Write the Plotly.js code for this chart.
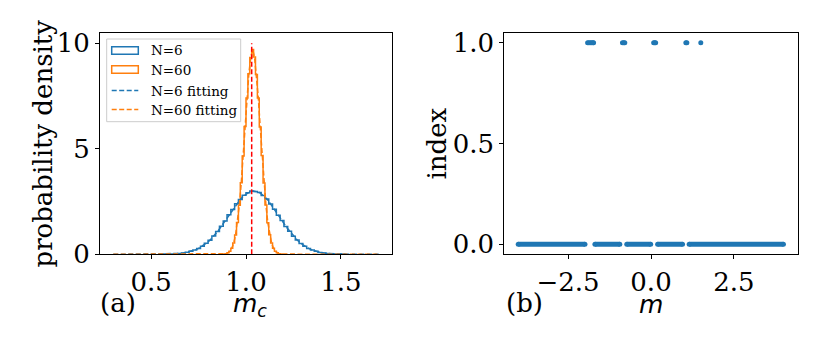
<!DOCTYPE html>
<html>
<head>
<meta charset="utf-8">
<script src="https://cdn.plot.ly/plotly-3.0.1.min.js"></script>
<style>
  body { margin: 0; background: #fff; }
  #graph { width: 830px; height: 346px; }
</style>
</head>
<body>
<div id="graph"></div>
<script>
// (a) histogram of m_c, N=6 (bin edges + densities)
var n6Edges = [0.56,0.58,0.60,0.62,0.64,0.66,0.68,0.70,0.72,0.74,0.76,0.78,0.80,0.82,0.84,0.86,
  0.88,0.90,0.92,0.94,0.96,0.98,1.00,1.02,1.04,1.06,1.08,1.10,1.12,1.14,1.16,1.18,1.20,1.22,
  1.24,1.26,1.28,1.30,1.32,1.34,1.36,1.38,1.40,1.42,1.44,1.46,1.48,1.50,1.52]
var n6Density = [0.01,0.01,0.02,0.03,0.04,0.06,0.10,0.14,0.20,0.28,0.38,0.52,0.67,0.87,1.08,1.33,
  1.58,1.87,2.12,2.39,2.60,2.80,2.92,3.00,2.98,2.93,2.79,2.62,2.38,2.14,1.85,1.60,1.32,1.09,
  0.86,0.68,0.51,0.38,0.28,0.20,0.14,0.09,0.06,0.04,0.03,0.02,0.01,0.01]

// N=60
var n60Edges = [0.88,0.89,0.90,0.91,0.92,0.93,0.94,0.95,0.96,0.97,0.98,0.99,1.00,1.01,1.02,1.03,
  1.04,1.05,1.06,1.07,1.08,1.09,1.10,1.11,1.12,1.13,1.14,1.15,1.16,1.17,1.18,1.19]
var n60Density = [0.01,0.03,0.07,0.15,0.29,0.53,0.92,1.51,2.33,3.39,4.66,6.05,7.40,8.55,9.33,9.70,
  9.35,8.52,7.41,6.03,4.68,3.38,2.34,1.50,0.93,0.53,0.29,0.15,0.07,0.03,0.01]

var fitRange = [0.3, 1.7]     // span of the fitted curves
var meanLine = 1.03           // red dashed line
var meanLineTop = 10

// (b) index vs m
var idx1M = [-1.91,-1.87,-1.83,-1.79,-1.75,-1.73, -0.86,-0.82,-0.79, 0.08,0.11,0.14, 1.05,1.08, 1.50]
var idx1Val = 1
// runs of index=0 points (start, end)
var idx0Runs = [[-4.0,-1.99],[-1.69,-0.94],[-0.73,-0.01],[0.20,0.95],[1.15,3.99]]
var idx0Val = 0

var blue = '#1f77b4'
var orange = '#ff7f0e'
var serif = 'DejaVu Serif'

//////////////////////////////////////////////////////////
// helpers
function stepTrace(edges, vals, color){
  // matplotlib histtype='step' outline
  var x = [edges[0]], y = [0]
  for (var i = 0; i < vals.length; i++){ x.push(edges[i]); y.push(vals[i]) }
  x.push(edges[edges.length-1]); y.push(0)
  return {x:x, y:y, mode:'lines', line:{shape:'hv', color:color, width:1.5},
    xaxis:'x', yaxis:'y', showlegend:false, hoverinfo:'skip'}
}
function fitTrace(edges, vals, color){
  var x = [fitRange[0]], y = [0]
  for (var i = 0; i < vals.length; i++){ x.push((edges[i]+edges[i+1])/2); y.push(vals[i]) }
  x.push(fitRange[1]); y.push(0)
  return {x:x, y:y, mode:'lines', line:{color:color, width:1.5, dash:'5px,2.5px'},
    xaxis:'x', yaxis:'y', showlegend:false, hoverinfo:'skip'}
}
// pixel -> paper
function px(v){ return v/830 }
function py(v){ return 1 - v/346 }

var traces = [
  stepTrace(n6Edges, n6Density, blue),
  stepTrace(n60Edges, n60Density, orange),
  fitTrace(n6Edges, n6Density, blue),
  fitTrace(n60Edges, n60Density, orange),
  {x:[meanLine, meanLine], y:[0, meanLineTop], mode:'lines',
    line:{color:'red', width:1.5, dash:'5px,2.5px'}, xaxis:'x', yaxis:'y', showlegend:false}
]

var runX = [], runY = []
idx0Runs.forEach(function(r){ runX.push(r[0], r[1], null); runY.push(idx0Val, idx0Val, null) })
traces.push({x:runX, y:runY, mode:'lines+markers', line:{color:blue, width:5},
  marker:{color:blue, size:5}, xaxis:'x2', yaxis:'y2', showlegend:false})
traces.push({x:idx1M, y:idx1M.map(function(){ return idx1Val }), mode:'markers',
  marker:{color:blue, size:5}, xaxis:'x2', yaxis:'y2', showlegend:false})

var axisCommon = {
  showgrid:false, zeroline:false, showline:true, mirror:true,
  linecolor:'black', linewidth:1, ticks:'outside', ticklen:4, tickwidth:1,
  tickcolor:'black', tickfont:{family:serif, size:26, color:'black'}
}

var legendShapes = [
  {type:'rect', xref:'paper', yref:'paper', x0:px(106.7), x1:px(240.7), y0:py(39), y1:py(121.7),
    line:{color:'#cccccc', width:1}, fillcolor:'rgba(255,255,255,0.8)'},
  {type:'rect', xref:'paper', yref:'paper', x0:px(111.7), x1:px(138.3), y0:py(46.7), y1:py(54.3),
    line:{color:blue, width:1.5}, fillcolor:'white'},
  {type:'rect', xref:'paper', yref:'paper', x0:px(111.7), x1:px(138.3), y0:py(65.7), y1:py(73.3),
    line:{color:orange, width:1.5}, fillcolor:'white'},
  {type:'line', xref:'paper', yref:'paper', x0:px(111.7), x1:px(138.3), y0:py(90.5), y1:py(90.5),
    line:{color:blue, width:1.5, dash:'5px,2.5px'}},
  {type:'line', xref:'paper', yref:'paper', x0:px(111.7), x1:px(138.3), y0:py(109.5), y1:py(109.5),
    line:{color:orange, width:1.5, dash:'5px,2.5px'}}
]
var legendNames = ['N=6', 'N=60', 'N=6 fitting', 'N=60 fitting']
var legendY = [50.5, 69.5, 90.5, 109.5]

var annotations = legendNames.map(function(t, i){
  return {text:t, xref:'paper', yref:'paper', x:px(149), y:py(legendY[i]), xanchor:'left',
    yanchor:'middle', showarrow:false, font:{family:serif, size:13.5, color:'black'}}
})
function label(t, x, y, opts){
  var a = {text:t, xref:'paper', yref:'paper', x:px(x), y:py(y), xanchor:'center', yanchor:'middle',
    showarrow:false, font:{family:serif, size:26, color:'black'}}
  for (var k in opts) a[k] = opts[k]
  return a
}
annotations.push(label('probability density', 42, 143.5, {textangle:-90}))
annotations.push(label('index', 436, 143.5, {textangle:-90}))
annotations.push(label('(a)', 118, 303))
annotations.push(label('(b)', 524, 303))
annotations.push(label('<i>m</i><sub><i>c</i></sub>', 250, 305, {font:{family:'DejaVu Sans', size:25, color:'black'}}))
annotations.push(label('<i>m</i>', 651, 304, {font:{family:'DejaVu Sans', size:25, color:'black'}}))

var layout = {
  width:830, height:346,
  margin:{l:0, r:0, t:0, b:0},
  paper_bgcolor:'white', plot_bgcolor:'white',
  showlegend:false,
  xaxis:Object.assign({}, axisCommon, {domain:[px(100), px(392)], range:[0.23, 1.77],
    tickvals:[0.5, 1.0, 1.5], tickformat:'.1f', anchor:'y'}),
  yaxis:Object.assign({}, axisCommon, {domain:[py(254.3), py(32.7)], range:[0, 10.5],
    tickvals:[0, 5, 10], anchor:'x'}),
  xaxis2:Object.assign({}, axisCommon, {domain:[px(504.3), px(797.7)], range:[-4.42, 4.42],
    tickvals:[-2.5, 0, 2.5], tickformat:'.1f', anchor:'y2'}),
  yaxis2:Object.assign({}, axisCommon, {domain:[py(254.3), py(32.7)], range:[-0.05, 1.05],
    tickvals:[0, 0.5, 1], tickformat:'.1f', anchor:'x2'}),
  shapes:legendShapes,
  annotations:annotations
}

Plotly.newPlot('graph', traces, layout, {displayModeBar:false, staticPlot:true})
</script>
</body>
</html>
